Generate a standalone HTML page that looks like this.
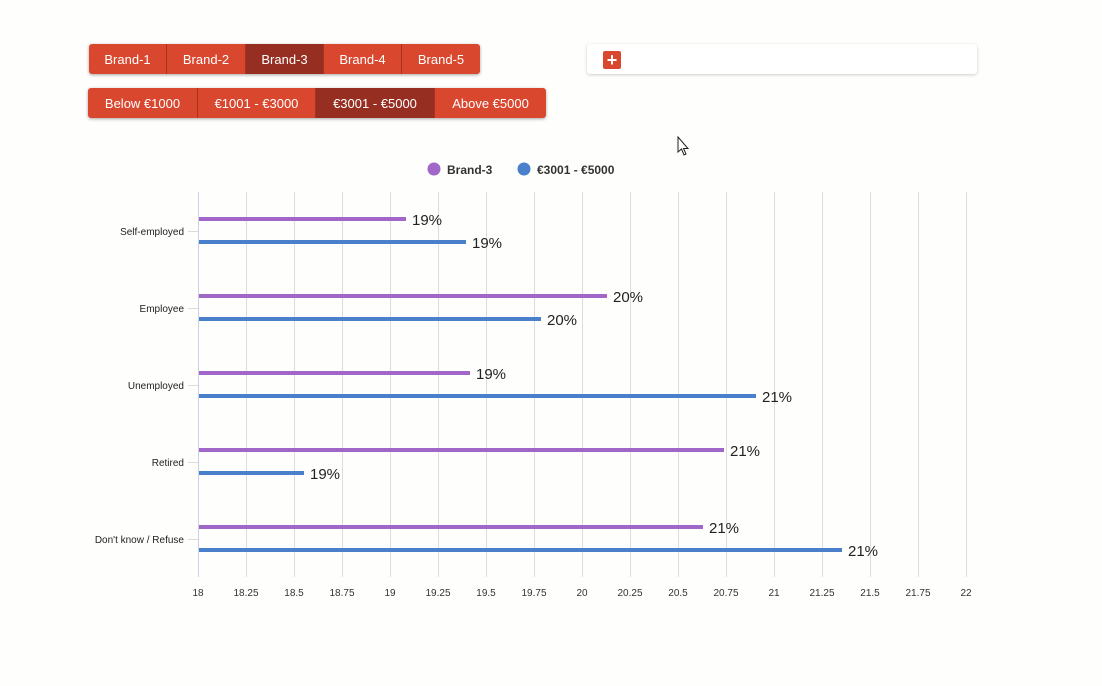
<!DOCTYPE html>
<html><head><style>
body{margin:0;width:1102px;height:686px;background:#fefefc;font-family:"Liberation Sans",Roboto,sans-serif;overflow:hidden;position:relative}
.grp{position:absolute;display:flex;border-radius:3px;overflow:hidden;box-shadow:0 1px 3px rgba(0,0,0,.35)}
.grp div{background:#d9472f;color:#fff;font-size:13px;display:flex;align-items:center;justify-content:center;border-right:1px solid #a8321f;box-sizing:border-box}
.grp div:last-child{border-right:none}
.grp div.sel{background:#962f21}
</style></head><body>
<div class="grp" style="left:89px;top:44px;height:30px">
<div style="width:78px">Brand-1</div><div style="width:79px">Brand-2</div><div class="sel" style="width:78px">Brand-3</div><div style="width:78px">Brand-4</div><div style="width:78px">Brand-5</div></div>
<div class="grp" style="left:88px;top:88px;height:30px">
<div style="width:110px">Below €1000</div><div style="width:118px">€1001 - €3000</div><div class="sel" style="width:119px">€3001 - €5000</div><div style="width:111px">Above €5000</div></div>
<div style="position:absolute;left:587px;top:44px;width:390px;height:30px;background:#fff;border-radius:3px;box-shadow:0 1px 3px rgba(0,0,0,.2)">
<div style="position:absolute;left:16px;top:7px;width:18px;height:18px;background:#d9472f;border-radius:2px;color:#fff;font-size:18px;font-weight:bold;line-height:18px;text-align:center">+</div></div>
<svg width="1102" height="686" style="position:absolute;left:0;top:0" font-family="Liberation Sans, sans-serif">
<circle cx="434" cy="169" r="6.5" fill="#a066c8"/><text x="447" y="174" font-size="12" font-weight="bold" fill="#333">Brand-3</text>
<circle cx="524" cy="169" r="6.5" fill="#4a7fcb"/><text x="537" y="174" font-size="12" font-weight="bold" fill="#333">€3001 - €5000</text>
<g stroke="#dcdcdc" stroke-width="1">
<line x1="246.5" y1="192" x2="246.5" y2="577"/><line x1="294.5" y1="192" x2="294.5" y2="577"/><line x1="342.5" y1="192" x2="342.5" y2="577"/><line x1="390.5" y1="192" x2="390.5" y2="577"/><line x1="438.5" y1="192" x2="438.5" y2="577"/><line x1="486.5" y1="192" x2="486.5" y2="577"/><line x1="534.5" y1="192" x2="534.5" y2="577"/><line x1="582.5" y1="192" x2="582.5" y2="577"/><line x1="630.5" y1="192" x2="630.5" y2="577"/><line x1="678.5" y1="192" x2="678.5" y2="577"/><line x1="726.5" y1="192" x2="726.5" y2="577"/><line x1="774.5" y1="192" x2="774.5" y2="577"/><line x1="822.5" y1="192" x2="822.5" y2="577"/><line x1="870.5" y1="192" x2="870.5" y2="577"/><line x1="918.5" y1="192" x2="918.5" y2="577"/><line x1="966.5" y1="192" x2="966.5" y2="577"/>
<line x1="188" y1="231.5" x2="198" y2="231.5"/><line x1="188" y1="308.5" x2="198" y2="308.5"/><line x1="188" y1="385.5" x2="198" y2="385.5"/><line x1="188" y1="462.5" x2="198" y2="462.5"/><line x1="188" y1="539.5" x2="198" y2="539.5"/>
</g>
<line x1="198.5" y1="192" x2="198.5" y2="577" stroke="#c8d4e6"/>
<g font-size="10" fill="#222" text-anchor="end">
<text x="184" y="235">Self-employed</text><text x="184" y="312">Employee</text><text x="184" y="389">Unemployed</text><text x="184" y="466">Retired</text><text x="184" y="543">Don't know / Refuse</text></g>
<g font-size="10" fill="#333" text-anchor="middle">
<text x="198" y="596">18</text><text x="246" y="596">18.25</text><text x="294" y="596">18.5</text><text x="342" y="596">18.75</text><text x="390" y="596">19</text><text x="438" y="596">19.25</text><text x="486" y="596">19.5</text><text x="534" y="596">19.75</text><text x="582" y="596">20</text><text x="630" y="596">20.25</text><text x="678" y="596">20.5</text><text x="726" y="596">20.75</text><text x="774" y="596">21</text><text x="822" y="596">21.25</text><text x="870" y="596">21.5</text><text x="918" y="596">21.75</text><text x="966" y="596">22</text></g>
<g fill="#a066c8"><rect x="199" y="217" width="207" height="4"/><rect x="199" y="294" width="408" height="4"/><rect x="199" y="371" width="271" height="4"/><rect x="199" y="448" width="525" height="4"/><rect x="199" y="525" width="504" height="4"/></g>
<g fill="#4a7fcb"><rect x="199" y="240" width="267" height="4"/><rect x="199" y="317" width="342" height="4"/><rect x="199" y="394" width="557" height="4"/><rect x="199" y="471" width="105" height="4"/><rect x="199" y="548" width="643" height="4"/></g>
<g font-size="15" fill="#222">
<text x="412" y="225">19%</text><text x="472" y="248">19%</text>
<text x="613" y="302">20%</text><text x="547" y="325">20%</text>
<text x="476" y="379">19%</text><text x="762" y="402">21%</text>
<text x="730" y="456">21%</text><text x="310" y="479">19%</text>
<text x="709" y="533">21%</text><text x="848" y="556">21%</text></g>
<path d="M678 137 L678 152 L681.5 149 L684 155 L686 154 L683.5 148.5 L688 148.5 Z" fill="#fff" stroke="#222" stroke-width="1"/>
</svg>
</body></html>
